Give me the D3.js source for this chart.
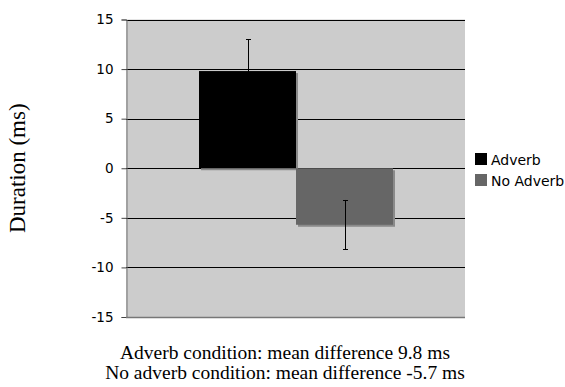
<!DOCTYPE html>
<html>
<head>
<meta charset="utf-8">
<script src="https://cdn.jsdelivr.net/npm/d3@7"></script>
<style>
  body { margin: 0; background: #fff; }
  svg { display: block; }
</style>
</head>
<body>
<svg id="chart" width="565" height="387"></svg>
<script>
// chart values
const conditions = ['Adverb', 'No Adverb'];
const means = [9.8, -5.7];
const errHigh = [13.0, -3.2];
const errLow = [6.6, -8.15];
const barColors = ['#000000', '#666666'];
const yTicks = [-15, -10, -5, 0, 5, 10, 15];
const captionLines = [
    'Adverb condition: mean difference 9.8 ms',
    'No adverb condition: mean difference -5.7 ms'
];

const svg = d3.select('#chart');

const plot = {left: 126, top: 19.5, right: 465, bottom: 317};

const y = d3.scaleLinear().domain([-15, 15]).range([plot.bottom, plot.top]);

// one category, two bars side by side in the middle
const x = d3.scaleBand()
    .domain(conditions)
    .range([199, 393]);

// plot background
svg.append('rect')
    .attr('x', plot.left)
    .attr('y', plot.top)
    .attr('width', plot.right - plot.left)
    .attr('height', plot.bottom - plot.top)
    .style('fill', '#cccccc');

// gridlines
svg.append('g')
    .selectAll('line')
    .data(yTicks.filter(d => d !== -15))
    .enter()
    .append('line')
    .attr('x1', plot.left)
    .attr('x2', plot.right)
    .attr('y1', d => Math.round(y(d)) + 0.5)
    .attr('y2', d => Math.round(y(d)) + 0.5)
    .style('stroke', '#000')
    .style('stroke-width', 1);

// bar shadows
svg.append('g')
    .selectAll('rect')
    .data(means)
    .enter()
    .append('rect')
    .attr('x', (d, i) => x(conditions[i]) + 2)
    .attr('y', d => Math.min(y(d), y(0)) + 2)
    .attr('width', x.bandwidth())
    .attr('height', d => Math.abs(y(d) - y(0)))
    .style('fill', '#8a8a8a');

// bars
svg.append('g')
    .selectAll('rect')
    .data(means)
    .enter()
    .append('rect')
    .attr('x', (d, i) => x(conditions[i]))
    .attr('y', d => Math.min(y(d), y(0)))
    .attr('width', x.bandwidth())
    .attr('height', d => Math.abs(y(d) - y(0)))
    .style('fill', (d, i) => barColors[i]);

// error bars
const eb = svg.append('g');
conditions.forEach((c, i) => {
    const cx = Math.round(x(c) + x.bandwidth() / 2) + 0.5;
    eb.append('line')
        .attr('x1', cx).attr('x2', cx)
        .attr('y1', y(errHigh[i])).attr('y2', y(errLow[i]))
        .style('stroke', '#000').style('stroke-width', 1);
    [errHigh[i], errLow[i]].forEach(v => {
        eb.append('line')
            .attr('x1', cx - 2.5).attr('x2', cx + 2.5)
            .attr('y1', Math.round(y(v)) + 0.5).attr('y2', Math.round(y(v)) + 0.5)
            .style('stroke', '#000').style('stroke-width', 1);
    });
});

// y axis
const yAxis = d3.axisLeft(y)
    .tickValues(yTicks)
    .tickFormat(d => String(d))
    .tickSize(5)
    .tickPadding(8);

const yG = svg.append('g')
    .attr('transform', `translate(${plot.left + 0.5},0)`)
    .call(yAxis);
yG.select('.domain').style('stroke', '#777');
yG.selectAll('.tick line').style('stroke', '#444');
yG.selectAll('.tick text')
    .style('font-family', 'Verdana, "DejaVu Sans", sans-serif')
    .style('font-size', '13.5px')
    .style('fill', '#000');

// bottom axis line
svg.append('line')
    .attr('x1', plot.left)
    .attr('x2', plot.right)
    .attr('y1', Math.round(y(-15)) + 0.5)
    .attr('y2', Math.round(y(-15)) + 0.5)
    .style('stroke', '#777')
    .style('stroke-width', 1.5);

// y axis title
svg.append('text')
    .attr('transform', `translate(25,${y(0)}) rotate(-90)`)
    .attr('text-anchor', 'middle')
    .style('font-family', '"Liberation Serif", "Times New Roman", serif')
    .style('font-size', '23px')
    .text('Duration (ms)');

// legend
const legend = svg.append('g')
    .attr('transform', 'translate(475,153)');
conditions.forEach((c, i) => {
    const row = legend.append('g').attr('transform', `translate(0,${i * 21})`);
    row.append('rect')
        .attr('width', 12).attr('height', 12)
        .style('fill', barColors[i]);
    row.append('text')
        .attr('x', 16).attr('y', 12)
        .style('font-family', 'Verdana, "DejaVu Sans", sans-serif')
        .style('font-size', '14px')
        .text(c);
});

// caption under chart
svg.append('g')
    .selectAll('text')
    .data(captionLines)
    .enter()
    .append('text')
    .attr('x', 285)
    .attr('y', (d, i) => 359 + i * 20)
    .attr('text-anchor', 'middle')
    .style('font-family', '"Liberation Serif", "Times New Roman", serif')
    .style('font-size', '19.5px')
    .text(d => d);
</script>
</body>
</html>
